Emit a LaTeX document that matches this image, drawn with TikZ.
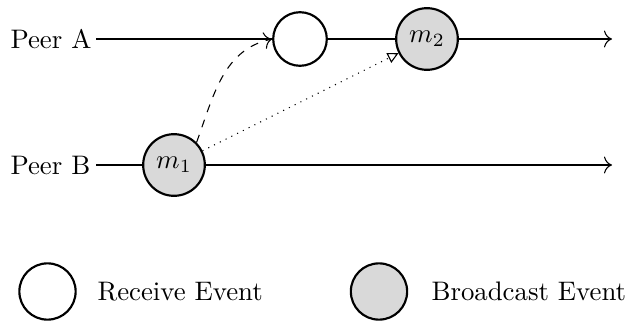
\documentclass[tikz,border=0pt]{standalone}
\usetikzlibrary{arrows.meta}
\begin{document}
\begin{tikzpicture}[x=0.3731pt, y=-0.3731pt,
  event/.style={circle, draw, thick, minimum size=20pt, inner sep=0pt},
  recv/.style={event, fill=white},
  bcast/.style={event, fill=black!15, minimum size=23pt},
  peer/.style={anchor=west, inner sep=0pt},
  timeline/.style={-{To[length=3pt]}},
]
\useasboundingbox (0,0) rectangle (629,324);

% peers and their time lines
\node[peer] (pa) at (10,39) {Peer A};
\node[peer] (pb) at (10,165) {Peer B};
\coordinate (pas) at (96,39);
\coordinate (pbs) at (96,165);
\coordinate (ae) at (612,39);
\coordinate (be) at (612,165);

% events
\node[recv]  (r)  at (300,39) {};
\node[bcast] (m2) at (427,39) {$m_2$};
\node[bcast] (m1) at (174,165) {$m_1$};

\draw[timeline] (pas) -- (r) -- (m2) -- (ae);
\draw[timeline] (pbs) -- (m1) -- (be);

% message delivery and causal link
\draw[dashed, -{To[length=3pt]}] (m1.45) to[out=70, in=192] (r.west);
\draw[dotted, -{Triangle[open, length=4pt, width=4pt]}] (m1) -- (m2);

% legend
\node[recv, minimum size=21pt] (lr) at (47.5,291.5) {};
\node[anchor=west, inner sep=0pt] (lrt) at (97,291.5) {Receive Event};
\node[bcast, minimum size=21pt] (lb) at (379,291.5) {};
\node[anchor=west, inner sep=0pt] (lbt) at (431,291.5) {Broadcast Event};
\end{tikzpicture}
\end{document}
